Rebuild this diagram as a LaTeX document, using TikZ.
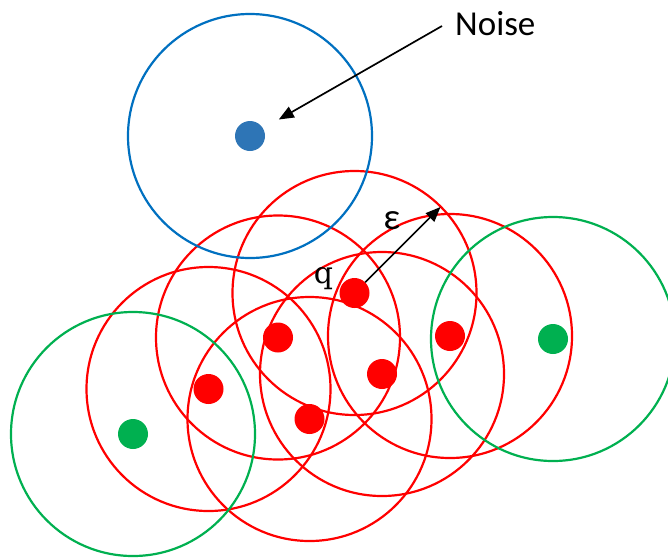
\documentclass[tikz,border=0pt]{standalone}
\usepackage{fontspec}
\newfontfamily\calibri{Carlito}
\newfontfamily\serifq{DejaVu Serif}
\usetikzlibrary{arrows.meta}
\definecolor{clred}{HTML}{FF0000}
\definecolor{clgreen}{HTML}{00B050}
\definecolor{clblue}{HTML}{0070C0}
\definecolor{dotblue}{HTML}{2E75B6}
\tikzset{
  pt/.style={circle, fill=#1, inner sep=0pt, minimum size=30pt},
  ring/.style={draw=#1, line width=2.2pt},
  pointer/.style={-{Triangle[length=15pt,width=12pt]}, line width=1.7pt},
}
\newcommand{\epsr}{122pt}

\begin{document}
\begin{tikzpicture}[x=1pt, y=-1pt]
  \useasboundingbox (0,0) rectangle (668,557);
  \clip (0,0) rectangle (668,557);
  \foreach \n/\px/\py in {cq/354.5/293, ca/278/337.5, cb/208.5/389,
                          cc/309.5/419, cd/382/374, ce/450/336,
                          cgl/133/434, cgr/553/339, cn/250/136}
    \coordinate (\n) at (\px,\py);
  \foreach \n in {cq,ca,cb,cc,cd,ce}
    \draw[ring=clred] (\n) circle[radius=\epsr];
  \draw[ring=clgreen] (cgl) circle[radius=\epsr];
  \draw[ring=clgreen] (cgr) circle[radius=\epsr];
  \draw[ring=clblue] (cn) circle[radius=\epsr];
  \foreach \n in {q,a,b,c,d,e}
    \node[pt=clred] (\n) at (c\n) {};
  \node[pt=clgreen] (gl) at (cgl) {};
  \node[pt=clgreen] (gr) at (cgr) {};
  \node[pt=dotblue] (noisept) at (cn) {};
  \node[anchor=base west, inner sep=0pt, font=\calibri\fontsize{35}{40}\selectfont] (noise) at (455,35.5) {Noise};
  \node[anchor=base, inner sep=0pt, font=\serifq\fontsize{30}{34}\selectfont] (qlabel) at (323.5,283.5) {q};
  \node[anchor=base, inner sep=0pt, font=\calibri\fontsize{37}{42}\selectfont] (epslabel) at (391.7,229.5) {ε};
  \coordinate (noisetail) at (442,26);
  \coordinate (epstip) at (440.5,207);
  \draw[pointer, shorten >=18pt] (noisetail) -- (noisept);
  \draw[pointer] (q) -- (epstip);
\end{tikzpicture}
\end{document}
